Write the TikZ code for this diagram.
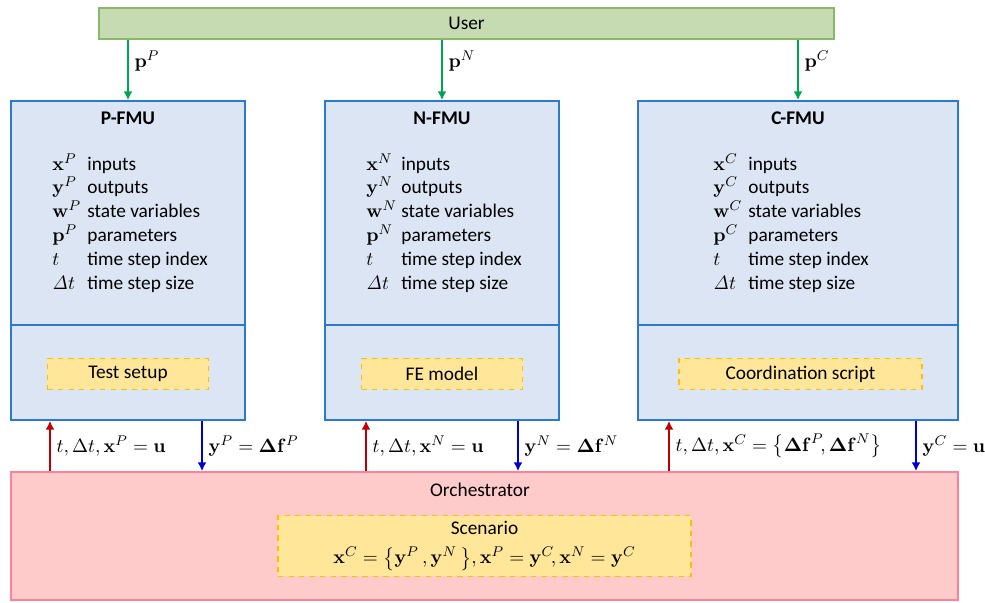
\documentclass[tikz,border=0pt]{standalone}
\usepackage{amsmath}
\usepackage[no-math]{fontspec}
\setmainfont{Carlito}
\usetikzlibrary{positioning, arrows.meta}

\definecolor{userfill}{HTML}{C6DBB1}
\definecolor{userdraw}{HTML}{8AB86A}
\definecolor{fmufill}{HTML}{DCE5F3}
\definecolor{fmudraw}{HTML}{2A7BD0}
\definecolor{orchfill}{HTML}{FFCACA}
\definecolor{orchdraw}{HTML}{FF8098}
\definecolor{setfill}{HTML}{FFE699}
\definecolor{setdraw}{HTML}{FFC000}
\definecolor{pgreen}{HTML}{00A550}
\definecolor{inred}{HTML}{C00000}
\definecolor{outblue}{HTML}{0000CC}

\begin{document}
\begin{tikzpicture}[
    x=0.2mm, y=-0.2mm,
    font=\fontsize{11}{13.6}\selectfont,
    % Styles
    userbar/.style={
        draw=userdraw,
        fill=userfill,
        line width=0.8pt,
        minimum width=147mm,
        minimum height=6.2mm
    },
    fmu/.style={
        draw=fmudraw,
        fill=fmufill,
        line width=0.9pt,
        minimum height=63.8mm
    },
    fmutitle/.style={font=\fontsize{11}{13.6}\selectfont\bfseries},
    varlist/.style={anchor=north west, inner sep=0pt},
    setup/.style={
        draw=setdraw,
        fill=setfill,
        dashed,
        line width=0.8pt,
        minimum height=6.2mm
    },
    orch/.style={
        draw=orchdraw,
        fill=orchfill,
        line width=0.9pt,
        minimum width=189.4mm,
        minimum height=25.6mm
    },
    flowlabel/.style={right, text=black},
    parrow/.style={-{Latex[length=5pt,width=5pt]}, pgreen, line width=0.9pt},
    inarrow/.style={-{Latex[length=5pt,width=5pt]}, inred, line width=0.9pt},
    outarrow/.style={-{Latex[length=5pt,width=5pt]}, outblue, line width=0.9pt}
]
    \useasboundingbox (0,0) rectangle (985,603);

    % --- USER ---
    \node[userbar] (user) at (466.5,23.5) {User};

    % --- FMU BOXES ---
    \node[fmu, minimum width=46.8mm] (pfmu) at (128,260.5) {};
    \node[fmu, minimum width=46.8mm] (nfmu) at (442,260.5) {};
    \node[fmu, minimum width=64mm] (cfmu) at (798,260.5) {};

    \coordinate (divy) at (0,325);
    \draw[draw=fmudraw, line width=0.9pt] (divy -| pfmu.west) -- (divy -| pfmu.east);
    \draw[draw=fmudraw, line width=0.9pt] (divy -| nfmu.west) -- (divy -| nfmu.east);
    \draw[draw=fmudraw, line width=0.9pt] (divy -| cfmu.west) -- (divy -| cfmu.east);

    \node[fmutitle] (ptitle) at (128,118) {P-FMU};
    \node[fmutitle] (ntitle) at (442,118) {N-FMU};
    \node[fmutitle] (ctitle) at (798,118) {C-FMU};

    % variable lists
    \node[varlist] (plist) at (52,153) {%
        \begin{tabular}{@{}p{7mm}@{}l@{}}
            $\mathbf{x}^P$ & inputs\\
            $\mathbf{y}^P$ & outputs\\
            $\mathbf{w}^P$ & state variables\\
            $\mathbf{p}^P$ & parameters\\
            $t$ & time step index\\
            $\mathit{\Delta}t$ & time step size
        \end{tabular}};
    \node[varlist] (nlist) at (366,153) {%
        \begin{tabular}{@{}p{7mm}@{}l@{}}
            $\mathbf{x}^N$ & inputs\\
            $\mathbf{y}^N$ & outputs\\
            $\mathbf{w}^N$ & state variables\\
            $\mathbf{p}^N$ & parameters\\
            $t$ & time step index\\
            $\mathit{\Delta}t$ & time step size
        \end{tabular}};
    \node[varlist] (clist) at (713,153) {%
        \begin{tabular}{@{}p{7mm}@{}l@{}}
            $\mathbf{x}^C$ & inputs\\
            $\mathbf{y}^C$ & outputs\\
            $\mathbf{w}^C$ & state variables\\
            $\mathbf{p}^C$ & parameters\\
            $t$ & time step index\\
            $\mathit{\Delta}t$ & time step size
        \end{tabular}};

    % inner models
    \node[setup, minimum width=32.2mm] (psetup) at (128,374) {Test setup};
    \node[setup, minimum width=32.2mm] (nsetup) at (442,374) {FE model};
    \node[setup, minimum width=48.6mm] (csetup) at (800.5,374) {Coordination script};

    % --- ORCHESTRATOR ---
    \node[orch] (orch) at (484.5,536) {};
    \node (orchlabel) at (480,490) {Orchestrator};
    \node[setup, minimum width=82.6mm, minimum height=11.6mm, align=center] (scen) at (484.5,546)
        {Scenario\\[3pt] $\mathbf{x}^C=\bigl\{\mathbf{y}^P\,,\mathbf{y}^N\,\bigr\},\mathbf{x}^P=\mathbf{y}^C\!,\mathbf{x}^N=\mathbf{y}^C$};

    % --- ARROWS ---
    % parameters from the user
    \draw[parrow] (user.south -| pfmu.north) -- (pfmu.north) node[flowlabel, pos=0.35] {$\mathbf{p}^P$};
    \draw[parrow] (user.south -| nfmu.north) -- (nfmu.north) node[flowlabel, pos=0.35] {$\mathbf{p}^N$};
    \draw[parrow] (user.south -| cfmu.north) -- (cfmu.north) node[flowlabel, pos=0.35] {$\mathbf{p}^C$};

    % exchange with the orchestrator
    \coordinate (pin) at (50,0);
    \coordinate (pout) at (202,0);
    \coordinate (nin) at (366,0);
    \coordinate (nout) at (518,0);
    \coordinate (cin) at (669,0);
    \coordinate (cout) at (916,0);

    \draw[inarrow] (pin |- orch.north) -- (pin |- pfmu.south)
        node[flowlabel, midway] {$t,\Delta t,\mathbf{x}^P=\mathbf{u}$};
    \draw[outarrow] (pout |- pfmu.south) -- (pout |- orch.north)
        node[flowlabel, midway] {$\mathbf{y}^P=\mathbf{\Delta f}^P$};
    \draw[inarrow] (nin |- orch.north) -- (nin |- nfmu.south)
        node[flowlabel, midway] {$t,\Delta t,\mathbf{x}^N=\mathbf{u}$};
    \draw[outarrow] (nout |- nfmu.south) -- (nout |- orch.north)
        node[flowlabel, midway] {$\mathbf{y}^N=\mathbf{\Delta f}^N$};
    \draw[inarrow] (cin |- orch.north) -- (cin |- cfmu.south)
        node[flowlabel, midway] {$t,\Delta t,\mathbf{x}^C=\bigl\{\mathbf{\Delta f}^P\!,\mathbf{\Delta f}^N\bigr\}$};
    \draw[outarrow] (cout |- cfmu.south) -- (cout |- orch.north)
        node[flowlabel, midway] {$\mathbf{y}^C=\mathbf{u}$};

\end{tikzpicture}
\end{document}
